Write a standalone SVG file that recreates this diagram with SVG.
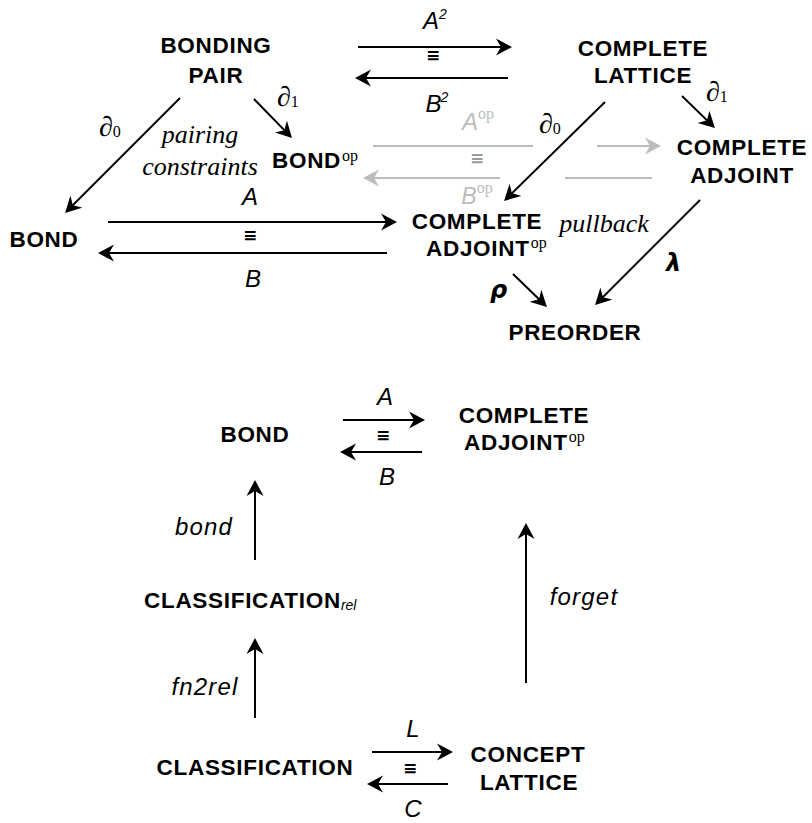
<svg xmlns="http://www.w3.org/2000/svg" width="812" height="823" viewBox="0 0 812 823">
<style>
.n{font-family:"Liberation Sans",Arial,sans-serif;font-weight:bold;font-size:22.5px;letter-spacing:0.7px;fill:#000;text-anchor:middle}
.ns{text-anchor:start}
.it{font-family:"Liberation Sans",Arial,sans-serif;font-style:italic;font-size:24px;fill:#000;text-anchor:middle}
.w{letter-spacing:1.2px}
.sr{font-family:"Liberation Serif","Times New Roman",serif;font-style:italic;font-size:26px;fill:#000;text-anchor:middle}
.op{font-family:"Liberation Serif","Times New Roman",serif;font-weight:normal;font-style:normal;font-size:16px;letter-spacing:0}
.d{font-family:"Liberation Serif","Times New Roman",serif;font-style:italic;font-size:28px;fill:#000}
.sub{font-size:16px;font-style:normal}
.gr{font-family:"DejaVu Sans",sans-serif;font-style:italic;font-weight:bold;font-size:24px;fill:#000}
.eq{font-family:"DejaVu Sans",sans-serif;font-weight:bold;font-size:17px;fill:#000;text-anchor:middle}
.c line{stroke:#000;stroke-width:2;fill:none}
.c .a{marker-end:url(#ah)}
.c .g{stroke:#bdbdbd}
.c .ga{stroke:#bdbdbd;marker-end:url(#ahg)}
</style>
<defs>
<marker id="ah" viewBox="0 -9 17 18" refX="14" refY="0" markerWidth="17" markerHeight="18" markerUnits="userSpaceOnUse" orient="auto">
<path d="M0,-8.5 L16,0 L0,8.5 L5,0 Z" fill="#000"/>
</marker>
<marker id="ahg" viewBox="0 -9 17 18" refX="14" refY="0" markerWidth="17" markerHeight="18" markerUnits="userSpaceOnUse" orient="auto">
<path d="M0,-8.5 L16,0 L0,8.5 L5,0 Z" fill="#bdbdbd"/>
</marker>
</defs>
<rect width="812" height="823" fill="#fff"/>

<g id="connectors" class="c">
<line class="a" x1="180" y1="98" x2="66.5" y2="211.5"/>
<line class="a" x1="254" y1="99" x2="290.6" y2="136.6"/>
<line class="a" x1="358" y1="47" x2="510" y2="47"/>
<line class="a" x1="508" y1="78" x2="357" y2="78"/>
<line class="a" x1="682" y1="96" x2="713.5" y2="126.6"/>
<line class="a" x1="605" y1="102" x2="505.5" y2="199.6"/>
<line class="a" x1="108" y1="222" x2="395" y2="222"/>
<line class="a" x1="387" y1="253" x2="100" y2="253"/>
<line class="a" x1="700" y1="200" x2="596.5" y2="303.5"/>
<line class="a" x1="513" y1="274" x2="545.5" y2="305.5"/>
<line class="g" x1="373" y1="146" x2="533" y2="146"/>
<line class="ga" x1="597" y1="146" x2="659" y2="146"/>
<line class="g" x1="652" y1="178" x2="565" y2="178"/>
<line class="ga" x1="500" y1="178" x2="365" y2="178"/>
<line class="a" x1="343" y1="420" x2="423" y2="420"/>
<line class="a" x1="422" y1="452" x2="342" y2="452"/>
<line class="a" x1="255" y1="560" x2="255" y2="482"/>
<line class="a" x1="526" y1="683" x2="526" y2="525"/>
<line class="a" x1="255" y1="718" x2="255" y2="640"/>
<line class="a" x1="372" y1="752" x2="451" y2="752"/>
<line class="a" x1="448" y1="784" x2="369" y2="784"/>
</g>

<g id="edge-labels">
<text class="d" x="99" y="136">∂<tspan class="sub" dy="1">0</tspan></text>
<text class="d" x="277" y="106">∂<tspan class="sub" dy="1">1</tspan></text>
<text class="d" x="706" y="101">∂<tspan class="sub" dy="1">1</tspan></text>
<text class="d" x="539" y="133">∂<tspan class="sub" dy="1">0</tspan></text>
<text class="it" x="435" y="29">A<tspan font-size="14" dy="-10">2</tspan></text>
<text class="it" x="437" y="112">B<tspan font-size="14" dy="-10" dx="-1">2</tspan></text>
<text class="eq" x="433" y="61">≡</text>
<text class="it" x="250" y="205">A</text>
<text class="it" x="253" y="287">B</text>
<text class="eq" x="250" y="241">≡</text>
<text class="it" x="478" y="130" style="fill:#bdbdbd">A<tspan class="op" dy="-11">op</tspan></text>
<text class="it" x="477" y="204" style="fill:#bdbdbd;font-size:23px">B<tspan class="op" dy="-11">op</tspan></text>
<text class="eq" x="477" y="164" style="fill:#9a9a9a">≡</text>
<text class="sr" x="200" y="143">pairing</text>
<text class="sr" x="200" y="175">constraints</text>
<text class="sr" x="604" y="232">pullback</text>
<text class="gr" x="666" y="271">λ</text>
<text class="gr" x="490" y="298">ρ</text>
<text class="it" x="385" y="405">A</text>
<text class="it" x="387" y="485">B</text>
<text class="eq" x="383" y="441">≡</text>
<text class="it w" x="204" y="535">bond</text>
<text class="it w" x="584" y="605">forget</text>
<text class="it w" x="205" y="695">fn2rel</text>
<text class="it" x="413" y="737">L</text>
<text class="it" x="413" y="817">C</text>
<text class="eq" x="410" y="774">≡</text>
</g>

<g id="bonding-pair"><text class="n" x="216" y="53">BONDING</text><text class="n" x="216" y="83">PAIR</text></g>
<g id="complete-lattice"><text class="n" x="643" y="56">COMPLETE</text><text class="n" x="643" y="83">LATTICE</text></g>
<g id="bond-op"><text class="n ns" x="272" y="168">BOND<tspan class="op" dy="-7" dx="1">op</tspan></text></g>
<g id="complete-adjoint"><text class="n" x="742" y="155">COMPLETE</text><text class="n" x="742" y="183">ADJOINT</text></g>
<g id="bond"><text class="n" x="44" y="247">BOND</text></g>
<g id="complete-adjoint-op"><text class="n" x="477" y="229">COMPLETE</text><text class="n ns" x="426" y="256">ADJOINT<tspan class="op" dy="-8" dx="1">op</tspan></text></g>
<g id="preorder"><text class="n" x="575" y="340">PREORDER</text></g>

<g id="bond-2"><text class="n" x="255" y="442">BOND</text></g>
<g id="complete-adjoint-op-2"><text class="n" x="524" y="423">COMPLETE</text><text class="n ns" x="464" y="450">ADJOINT<tspan class="op" dy="-8" dx="1">op</tspan></text></g>
<g id="classification-rel"><text class="n ns" x="144" y="608">CLASSIFICATION<tspan font-weight="normal" font-style="italic" font-size="14" dy="2" letter-spacing="0">rel</tspan></text></g>
<g id="classification"><text class="n" x="255" y="775">CLASSIFICATION</text></g>
<g id="concept-lattice"><text class="n" x="528" y="762">CONCEPT</text><text class="n" x="529" y="790">LATTICE</text></g>
</svg>
